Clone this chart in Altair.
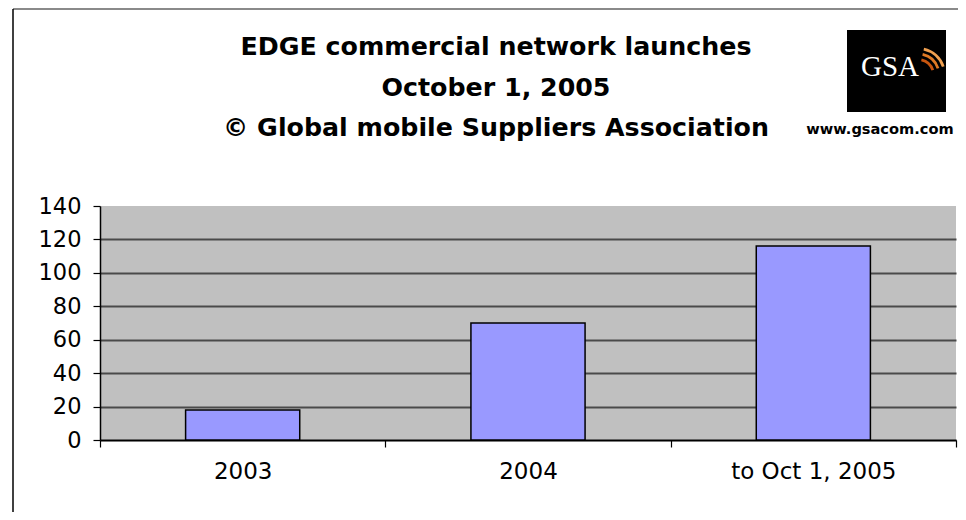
import altair as alt
import pandas as pd

# ---- data ----
CATEGORIES = ["2003", "2004", "to Oct 1, 2005"]
LAUNCHES = [18, 70, 116]
Y_TICKS = [0, 20, 40, 60, 80, 100, 120, 140]
TITLE_LINES = [
    "EDGE commercial network launches",
    "October 1, 2005",
    "\u00a9 Global mobile Suppliers Association",
]
LOGO_TEXT = "GSA"
URL_TEXT = "www.gsacom.com"

df = pd.DataFrame({"period": CATEGORIES, "launches": LAUNCHES})
one = pd.DataFrame({"k": [0]})

W, H = 856, 234
FONT = "DejaVu Sans"

bars = alt.Chart(df).mark_bar(
    color="#9999FF", stroke="black", strokeWidth=1.5,
    width=alt.RelativeBandSize(0.4)
).encode(
    x=alt.X(
        "period:N", sort=CATEGORIES, title=None,
        scale=alt.Scale(paddingInner=0, paddingOuter=0),
        axis=alt.Axis(
            labelAngle=0, tickBand="extent", domainColor="black", domainWidth=1.5,
            tickColor="black", tickSize=7, tickWidth=1.2, labelPadding=13,
            labelFont=FONT, labelFontSize=23, labelColor="black", grid=False,
        ),
    ),
    y=alt.Y(
        "launches:Q", title=None,
        scale=alt.Scale(domain=[0, 140], nice=False),
        axis=alt.Axis(
            values=Y_TICKS, domainColor="black", domainWidth=1.5,
            tickColor="black", tickSize=7, tickWidth=1.2, labelPadding=12,
            labelFont=FONT, labelFontSize=22.5, labelColor="black",
            grid=True, gridColor="#4a4a4a", gridWidth=1.8,
            gridOpacity=alt.condition("datum.value == 140", alt.value(0), alt.value(1)),
        ),
    ),
)

layers = [bars]

# title lines
title_y = [-159, -118, -78]
for line, ty in zip(TITLE_LINES, title_y):
    layers.append(
        alt.Chart(one).mark_text(
            text=line, font=FONT, fontWeight="bold", fontSize=25.3,
            align="center", baseline="middle", color="black",
        ).encode(x=alt.value(396), y=alt.value(ty))
    )

# frame lines of the original picture
layers.append(
    alt.Chart(one).mark_rule(color="#8a8a8a", strokeWidth=2).encode(
        x=alt.value(-87), x2=alt.value(860), y=alt.value(-197)
    )
)
layers.append(
    alt.Chart(one).mark_rule(color="black", strokeWidth=1.5).encode(
        x=alt.value(-87), y=alt.value(-197), y2=alt.value(306)
    )
)

# GSA logo
layers.append(
    alt.Chart(one).mark_rect(color="black").encode(
        x=alt.value(747), x2=alt.value(846), y=alt.value(-176), y2=alt.value(-94)
    )
)
layers.append(
    alt.Chart(one).mark_text(
        text=LOGO_TEXT, font="Liberation Serif", fontSize=29, color="white",
        align="center", baseline="alphabetic",
    ).encode(x=alt.value(790), y=alt.value(-130))
)
for r, col in zip([17, 22.5, 28], ["#c8560f", "#e07a25", "#f0a050"]):
    layers.append(
        alt.Chart(one).mark_arc(
            theta=0.22, theta2=1.25, radius=r, radius2=r - 2.8, color=col
        ).encode(x=alt.value(818), y=alt.value(-131))
    )
layers.append(
    alt.Chart(one).mark_text(
        text=URL_TEXT, font=FONT, fontWeight="bold", fontSize=14.6, color="black",
        align="center", baseline="middle",
    ).encode(x=alt.value(780), y=alt.value(-76))
)

chart = alt.layer(*layers).properties(
    width=W, height=H,
    autosize=alt.AutoSizeParams(type="none"),
    padding={"left": 92, "top": 198, "right": 2, "bottom": 72},
    background="white",
).configure_view(fill="#C0C0C0", strokeWidth=0)

chart.save("out.html", embed_options={"renderer": "svg", "actions": False})
